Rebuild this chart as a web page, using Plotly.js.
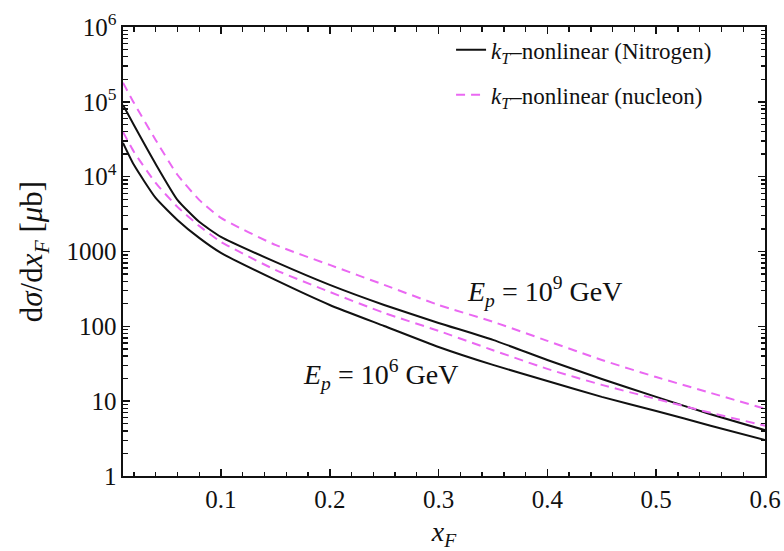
<!DOCTYPE html>
<html>
<head>
<meta charset="utf-8">
<script src="https://cdn.plot.ly/plotly-3.0.1.min.js"></script>
<style>html,body{margin:0;padding:0;background:#fff;}#chart{width:784px;height:551px;}</style>
</head>
<body>
<div id="chart"></div>
<script>
// x_F sample points
var xF = [0.01, 0.02, 0.04, 0.06, 0.08, 0.10, 0.15, 0.20, 0.25, 0.30, 0.35, 0.40, 0.45, 0.50, 0.55, 0.60];
// Ep = 1e9 GeV
var nitrogen9 = [91000, 49000, 14800, 4900, 2490, 1570, 726, 358, 193, 111, 66, 35.5, 19.8, 11.4, 6.7, 4.1];
var nucleon9  = [180000, 97000, 31000, 10600, 4900, 2810, 1225, 662, 358, 193, 115, 64, 35.5, 21, 12.9, 7.9];
// Ep = 1e6 GeV
var nitrogen6 = [28300, 14400, 5210, 2645, 1520, 958, 417, 193, 101, 53, 30.5, 18.6, 11.4, 7.4, 4.7, 3.03];
var nucleon6  = [39700, 21500, 8260, 3950, 2200, 1345, 568, 288, 151, 87, 48, 27, 16.5, 10.7, 7.0, 4.7];

var yTickVals = [1, 10, 100, 1000, 1e4, 1e5, 1e6];
var yTickText = ['1', '10', '100', '1000', '10<sup>4</sup>', '10<sup>5</sup>', '10<sup>6</sup>'];
var xTickVals = [0.1, 0.2, 0.3, 0.4, 0.5, 0.6];
var xTickText = ['0.1', '0.2', '0.3', '0.4', '0.5', '0.6'];
var legendNames = ['<i>k</i><sub><i>T</i></sub>\u2013nonlinear (Nitrogen)', '<i>k</i><sub><i>T</i></sub>\u2013nonlinear (nucleon)'];
var labels = ['<i>E</i><sub><i>p</i></sub> = 10<sup>9</sup> GeV', '<i>E</i><sub><i>p</i></sub> = 10<sup>6</sup> GeV'];

var FONT = 'Liberation Serif, Times New Roman, serif';
var BLACK = '#111111';
var MAG = '#ea68f2';

var yMinor = [];
for (var d = 0; d < 6; d++) { for (var m = 2; m <= 9; m++) { yMinor.push(m * Math.pow(10, d)); } }

var lineBlack = {color: BLACK, width: 2, shape: 'spline', smoothing: 0.5};
var lineMag = {color: MAG, width: 2, dash: '9px,6px', shape: 'spline', smoothing: 0.5};

var traces = [
  {x: xF, y: nitrogen9, mode: 'lines', name: legendNames[0], legendgroup: 'a', line: lineBlack},
  {x: xF, y: nucleon9, mode: 'lines', name: legendNames[1], legendgroup: 'b', line: lineMag},
  {x: xF, y: nitrogen6, mode: 'lines', showlegend: false, legendgroup: 'a', line: lineBlack},
  {x: xF, y: nucleon6, mode: 'lines', showlegend: false, legendgroup: 'b', line: lineMag}
];

var axisCommon = {
  showline: true, linecolor: BLACK, linewidth: 1.6, mirror: 'ticks',
  ticks: 'inside', ticklen: 7, tickwidth: 1.5, tickcolor: BLACK,
  showgrid: false, zeroline: false,
  tickfont: {family: FONT, size: 25, color: BLACK}
};

var layout = {
  width: 784, height: 551,
  margin: {l: 123, r: 19, t: 27, b: 75},
  paper_bgcolor: '#fff', plot_bgcolor: '#fff',
  showlegend: true,
  legend: {x: 0.511, xanchor: 'left', y: 0.997, yanchor: 'top', bgcolor: 'rgba(0,0,0,0)',
           font: {family: FONT, size: 23, color: BLACK}, traceorder: 'grouped', tracegroupgap: 12},
  xaxis: Object.assign({}, axisCommon, {
    range: [0.01, 0.6], tickmode: 'array', tickvals: xTickVals, ticktext: xTickText,
    minor: {ticks: 'inside', ticklen: 4.5, tickwidth: 1.3, tickcolor: BLACK, dtick: 0.02, tick0: 0, showgrid: false},
    title: {text: '<i>x</i><sub><i>F</i></sub>', font: {family: FONT, size: 28, color: BLACK}, standoff: 38}
  }),
  yaxis: Object.assign({}, axisCommon, {
    type: 'log', range: [0, 6], tickmode: 'array', tickvals: yTickVals, ticktext: yTickText,
    minor: {ticks: 'inside', ticklen: 4.5, tickwidth: 1.3, tickcolor: BLACK, tickmode: 'array', tickvals: yMinor, showgrid: false},
    title: {text: 'd<i>σ</i>/d<i>x</i><sub><i>F</i></sub> [<i>μ</i>b]', font: {family: FONT, size: 31, color: BLACK}, standoff: 14}
  }),
  annotations: [
    {x: 0.397, y: Math.log10(290), xref: 'x', yref: 'y', text: labels[0], showarrow: false,
     font: {family: FONT, size: 28, color: BLACK}},
    {x: 0.247, y: Math.log10(23), xref: 'x', yref: 'y', text: labels[1], showarrow: false,
     font: {family: FONT, size: 28, color: BLACK}}
  ]
};

Plotly.newPlot('chart', traces, layout, {displayModeBar: false, staticPlot: true});
</script>
</body>
</html>
